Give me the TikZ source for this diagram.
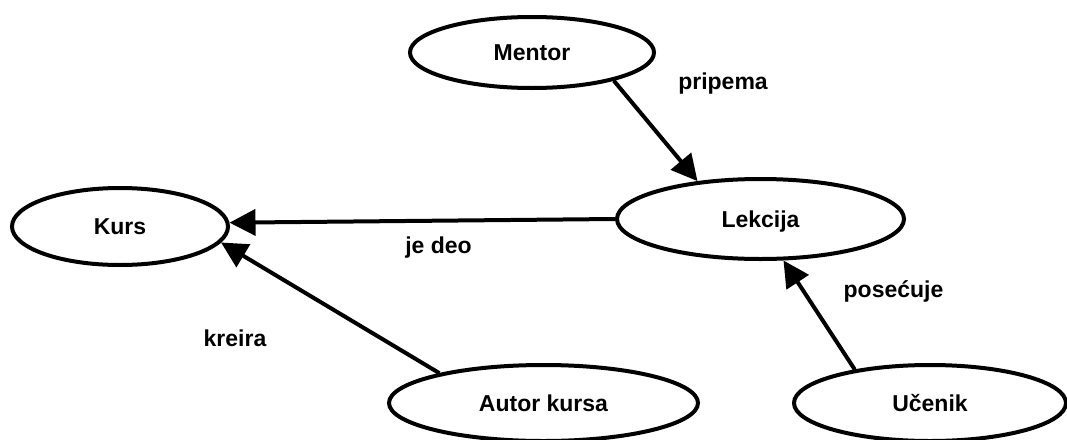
\documentclass[tikz,border=0pt]{standalone}
\usepackage{fontspec}
\setmainfont{Liberation Sans}
\usetikzlibrary{shapes.geometric,arrows.meta}
\begin{document}
\begin{tikzpicture}[x=1pt,y=-1pt,
  ent/.style={ellipse,draw=black,line width=4pt,inner sep=0pt,
    font=\fontsize{23}{28}\selectfont\bfseries,text height=16.5pt,text depth=0pt},
  lbl/.style={anchor=base,font=\fontsize{23}{28}\selectfont\bfseries,inner sep=0pt},
  conn/.style={line width=4pt,-{Triangle[length=26pt,width=26pt]}}]
\useasboundingbox (0,0) rectangle (1067,439);
\node[ent,minimum width=244pt,minimum height=71pt] (mentor) at (532,52.5) {Mentor};
\node[ent,minimum width=216pt,minimum height=77pt] (kurs) at (120,226.5) {Kurs};
\node[ent,minimum width=287pt,minimum height=80pt] (lekcija) at (760.5,219) {Lekcija};
\node[ent,minimum width=309pt,minimum height=76pt] (autor) at (543.5,403) {Autor kursa};
\node[ent,minimum width=272pt,minimum height=76pt] (ucenik) at (930,403) {Učenik};
\draw[conn] (mentor.-19) -- (lekcija.149);
\draw[conn] (lekcija.180) -- (kurs.2);
\draw[conn] (autor.164) -- (kurs.-9);
\draw[conn] (ucenik.156) -- (lekcija.-61);
\node[lbl] (l1) at (723,89) {pripema};
\node[lbl] (l2) at (438.5,253) {je deo};
\node[lbl] (l3) at (235,346) {kreira};
\node[lbl] (l4) at (893.5,297) {posećuje};
\end{tikzpicture}
\end{document}
